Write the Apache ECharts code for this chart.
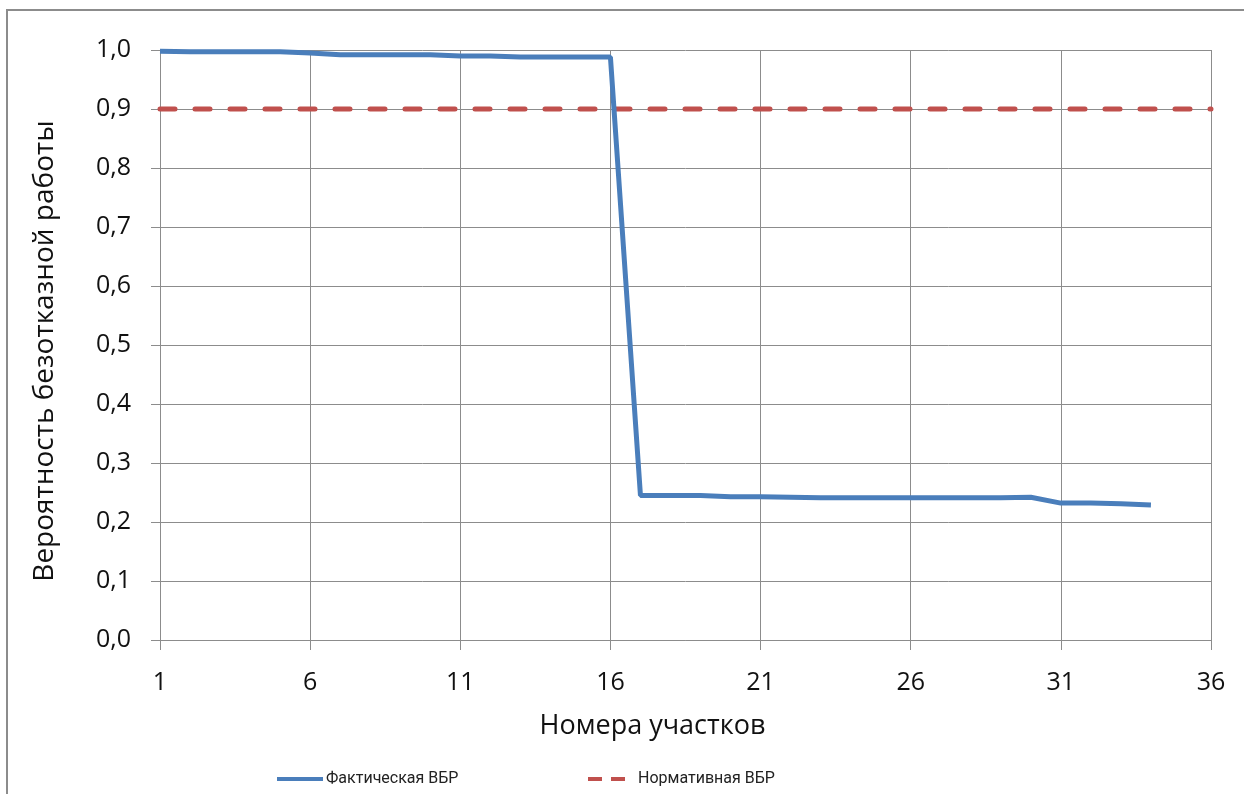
<!DOCTYPE html>
<html><head><meta charset="utf-8">
<script src="https://cdn.jsdelivr.net/npm/echarts@6/dist/echarts.min.js"></script>
<style>html,body{margin:0;padding:0;background:#fff}#c{width:1244px;height:794px}</style>
</head><body><div id="c"></div>
<script>
var categories = [];
for (var i = 1; i <= 36; i++) categories.push(String(i));
var actual = [0.998,0.997,0.997,0.997,0.997,0.995,0.992,0.992,0.992,0.992,0.990,0.990,0.988,0.988,0.988,0.988,
  0.245,0.245,0.245,0.243,0.243,0.242,0.241,0.241,0.241,0.241,0.241,0.241,0.241,0.242,0.232,0.232,0.231,0.229];
var normative = [];
for (var j = 0; j < 36; j++) normative.push(0.9);
var seriesNames = ['Фактическая ВБР', 'Нормативная ВБР'];
var xTitle = 'Номера участков';
var yTitle = 'Вероятность безотказной работы';

var FONT = 'Open Sans';
var LFONT = 'Roboto';
var grid = '#8c8c8c';
var chart = echarts.init(document.getElementById('c'));
chart.setOption({
  animation: false,
  graphic: [{type:'rect', shape:{x:7,y:10,width:1260,height:800}, style:{fill:'none', stroke:'#8c8c8c', lineWidth:2}, silent:true}],
  grid: {left:160, right:33, top:50, bottom:154},
  legend: [
    {data:[seriesNames[0]], left:272, top:766, itemWidth:46, itemHeight:4, icon:'rect', itemGap:5,
      textStyle:{fontFamily:LFONT, fontSize:16, color:'#222', padding:[0,0,0,-2]}},
    {data:[seriesNames[1]], left:583, top:766, itemWidth:37, itemHeight:5, icon:'path://M0,0h14v4h-14z M23,0h14v4h-14z',
      textStyle:{fontFamily:LFONT, fontSize:16, color:'#222', padding:[0,0,0,8]}}
  ],
  xAxis: {
    type:'category', data:categories, boundaryGap:false,
    name:xTitle, nameLocation:'middle', nameGap:73,
    nameTextStyle:{fontFamily:FONT, fontSize:27, color:'#111', padding:[0,66,0,0]},
    axisLine:{lineStyle:{color:grid, width:1}},
    axisTick:{interval:4, length:10, lineStyle:{color:grid}},
    axisLabel:{interval:4, margin:30, fontFamily:FONT, fontSize:25, color:'#111'},
    splitLine:{show:true, interval:4, lineStyle:{color:grid, width:1}}
  },
  yAxis: {
    type:'value', min:0, max:1, interval:0.1,
    name:yTitle, nameLocation:'middle', nameGap:101,
    nameTextStyle:{fontFamily:FONT, fontSize:28, color:'#111', padding:[0,12,0,0]},
    axisLine:{show:true, lineStyle:{color:grid}},
    axisTick:{show:true, length:9, lineStyle:{color:grid}},
    axisLabel:{margin:29, fontFamily:FONT, fontSize:25, color:'#111', formatter:function(v){return v.toFixed(1).replace('.', ',');}},
    splitLine:{show:true, lineStyle:{color:grid, width:1}}
  },
  series: [
    {name:seriesNames[0], type:'line', data:actual, symbol:'none', lineStyle:{color:'#4a7ebb', width:5}, itemStyle:{color:'#4a7ebb'}, z:3},
    {name:seriesNames[1], type:'line', data:normative, symbol:'none', lineStyle:{color:'#c0504d', width:5, type:[15,20], cap:'round'}, itemStyle:{color:'#c0504d'}, z:2}
  ]
});
</script></body></html>
